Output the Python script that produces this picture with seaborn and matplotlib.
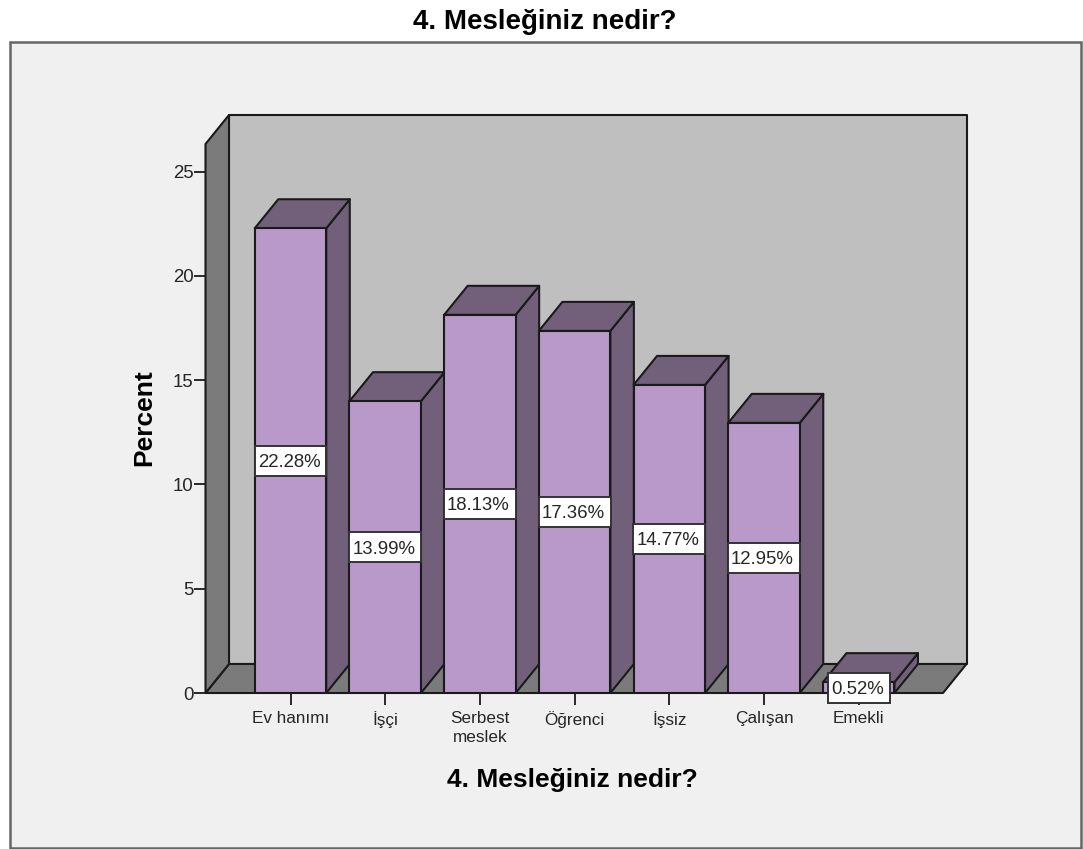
import matplotlib
matplotlib.use("Agg")
import matplotlib.pyplot as plt
from matplotlib.patches import Polygon, Rectangle
from matplotlib.transforms import IdentityTransform
import pandas as pd
import seaborn as sns

occupations = ["Ev hanımı", "İşçi", "Serbest\nmeslek", "Öğrenci", "İşsiz", "Çalışan", "Emekli"]
percents = [22.28, 13.99, 18.13, 17.36, 14.77, 12.95, 0.52]
y_ticks = [0, 5, 10, 15, 20, 25]
title_text = "4. Mesleğiniz nedir?"

W, H = 1083, 849
FRONT = "#B899C9"
SHADE = "#72607B"
WALL = "#BFBFBF"
FLOOR = "#7B7B7B"
PANEL = "#F0F0F0"
INK = "#1A1A1A"
TEXT = "#262626"

sns.set_theme(style="white")
plt.rcParams["font.family"] = ["Liberation Sans", "DejaVu Sans"]

fig = plt.figure(figsize=(W / 100, H / 100), dpi=100, facecolor="white")

# Outer chart panel, in figure pixels, kept behind the axes
fig.add_artist(Rectangle((9.5, H - 847.5), 1071.5, 805.5, transform=IdentityTransform(),
                         facecolor=PANEL, edgecolor="#666666", linewidth=1.8, zorder=-1))

# Axes box spans the front edge of the 3D frame
ax_left, ax_right, ax_bottom, ax_top = 205.5, 943.0, 693.0, 144.0
ax_w, ax_h = ax_right - ax_left, ax_bottom - ax_top
ax = fig.add_axes([ax_left / W, 1 - ax_bottom / H, ax_w / W, ax_h / H])
ax.patch.set_visible(False)

df = pd.DataFrame({"occupation": occupations, "percent": percents})
sns.barplot(data=df, x="occupation", y="percent", color=FRONT, saturation=1, width=0.755,
            edgecolor=INK, linewidth=1.5, ax=ax, zorder=5)

ax.set_xlim(-0.8976, 6.89)
ax.set_ylim(0, 26.32)
x0, x1 = ax.get_xlim()
y0, y1 = ax.get_ylim()

# Depth of the extrusion in data units
dx = 23.5 / 94.7
dy = 29 / 20.86


def face(points, color, z):
    ax.add_patch(Polygon(points, closed=True, facecolor=color, edgecolor=INK, linewidth=1.5,
                         joinstyle="round", clip_on=False, zorder=z))


# Back wall, floor and side wall
face([(x0 + dx, y0 + dy), (x1 + dx, y0 + dy), (x1 + dx, y1 + dy), (x0 + dx, y1 + dy)], WALL, 1)
face([(x0, y0), (x1, y0), (x1 + dx, y0 + dy), (x0 + dx, y0 + dy)], FLOOR, 2)
face([(x0, y0), (x0 + dx, y0 + dy), (x0 + dx, y1 + dy), (x0, y1)], FLOOR, 2)

# Extrude each bar: right side and top, both behind the front face
for bar in ax.patches[:len(percents)]:
    left, right = bar.get_x(), bar.get_x() + bar.get_width()
    top = bar.get_height()
    face([(right, 0), (right + dx, dy), (right + dx, top + dy), (right, top)], SHADE, 4)
    face([(left, top), (right, top), (right + dx, top + dy), (left + dx, top + dy)], SHADE, 4)

ax.set_xlabel(title_text, fontsize=19, fontweight="bold", color="black", va="baseline", ha="center")
ax.xaxis.set_label_coords((572.5 - ax_left) / ax_w, -(787 - ax_bottom) / ax_h)
ax.set_ylabel("Percent", fontsize=19, fontweight="bold", color="black", va="baseline", ha="center")
ax.yaxis.set_label_coords((151 - ax_left) / ax_w, (ax_bottom - 417.5) / ax_h)
ax.set_yticks(y_ticks)
ax.tick_params(axis="y", labelsize=13.4, length=8.5, width=1.3, color=INK, labelcolor=TEXT, pad=0, left=True)
ax.tick_params(axis="x", labelsize=12.3, length=8.5, width=1.3, color=INK, labelcolor=TEXT, pad=4.2, bottom=True)
for tick_label in ax.get_xticklabels():
    tick_label.set_linespacing(1.4)
sns.despine(ax=ax, left=True, bottom=True, top=True, right=True)

# Value labels sit mid-height on each bar inside a white box
fig.canvas.draw()
renderer = fig.canvas.get_renderer()
for i, value in enumerate(percents):
    label = ax.text(i - 1.5 / 94.7, value / 2, f"{value:.2f}%", ha="center", va="center_baseline",
                    fontsize=13.4, color=TEXT, zorder=8, clip_on=False)
    box = label.get_window_extent(renderer)
    cx, cy = ax.transData.transform((i, value / 2))
    ax.add_patch(Rectangle((cx - box.width / 2 - 4.5, cy - 15), box.width + 9, 30,
                           transform=IdentityTransform(), facecolor="white", edgecolor="#333333",
                           linewidth=1.4, zorder=7, clip_on=False))

fig.text(545 / W, 1 - 29 / H, title_text, ha="center", va="baseline", fontsize=20,
         fontweight="bold", color="black")

fig.savefig("out.png", dpi=100, facecolor="white")
